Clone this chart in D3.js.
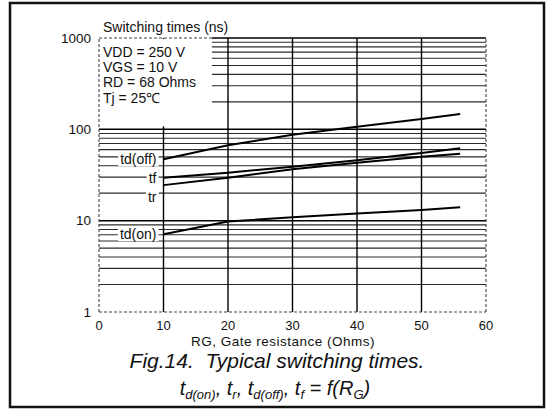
<!DOCTYPE html>
<html>
<head>
<meta charset="utf-8">
<script src="https://cdn.jsdelivr.net/npm/d3@7"></script>
<style>
  body { margin: 0; background: #fff; }
  text { font-family: "Liberation Sans", Arial, sans-serif; fill: #111; }
</style>
</head>
<body>
<svg id="chart"></svg>
<script>
const WIDTH = 550;
const HEIGHT = 409;

// gate resistance (Ohms) where curves were read
const rg = [10, 20, 30, 40, 50, 56];
// switching times, ns
const tdOff = [47, 67, 87, 107, 130, 147];
const tf = [29.5, 33.5, 39, 46, 55, 62];
const tr = [24.5, 29.5, 36.5, 43, 50, 54];
const tdOn = [7.1, 9.8, 10.9, 12, 13.1, 14];

const curveNames = ["td(off)", "tf", "tr", "td(on)"];
const curveValues = [tdOff, tf, tr, tdOn];
const labelAt = [47, 29.5, 18, 7.1]; // where each name sits on the y axis

const xTicks = [0, 10, 20, 30, 40, 50, 60];
const yTicks = [1, 10, 100, 1000];
const conditions = ["VDD = 250 V", "VGS = 10 V", "RD = 68 Ohms", "Tj = 25\u2103"];

function main(){
    var svg = d3.select("#chart")
        .attr("width", WIDTH)
        .attr("height", HEIGHT);

    var x = d3.scaleLinear().domain([0, 60]).range([99, 486]);
    var y = d3.scaleLog().domain([1, 1000]).range([312, 38]);

    // outer frame
    svg.append("rect")
        .attr("x", 10).attr("y", 3)
        .attr("width", 534).attr("height", 404)
        .attr("fill", "none")
        .attr("stroke", "#111")
        .attr("stroke-width", 2.5);

    var grid = svg.append("g");

    // minor + major horizontal lines
    var hLines = [];
    for (var dec = 1; dec < 1000; dec *= 10){
        for (var k = 2; k <= 9; k++) hLines.push(dec * k);
        if (dec > 1) hLines.push(dec);
    }
    grid.selectAll(".h")
        .data(hLines)
        .enter()
        .append("line")
        .attr("x1", x(0)).attr("x2", x(60))
        .attr("y1", d=>y(d)).attr("y2", d=>y(d))
        .attr("stroke", d=>(d == 10 || d == 100) ? "#000" : "#2a2a2a")
        .attr("stroke-width", d=>(d == 10 || d == 100) ? 1.5 : 1.1);

    // vertical lines
    grid.selectAll(".v")
        .data([10, 20, 30, 40, 50])
        .enter()
        .append("line")
        .attr("x1", d=>x(d)).attr("x2", d=>x(d))
        .attr("y1", y(1)).attr("y2", y(1000))
        .attr("stroke", "#000")
        .attr("stroke-width", 1.4);

    // white box holding the test conditions
    svg.append("rect")
        .attr("x", x(0)).attr("y", y(1000) + 1)
        .attr("width", x(17.5) - x(0))
        .attr("height", y(100) - y(1000) - 4)
        .attr("fill", "#fff");

    // frame of the plot: dashed left/right/bottom, solid top beyond box
    var dashed = [
        [0, 1, 0, 1000], [60, 1, 60, 1000], [0, 1, 60, 1], [0, 1000, 17.5, 1000]
    ];
    svg.selectAll(".frame")
        .data(dashed)
        .enter()
        .append("line")
        .attr("x1", d=>x(d[0])).attr("y1", d=>y(d[1]))
        .attr("x2", d=>x(d[2])).attr("y2", d=>y(d[3]))
        .attr("stroke", "#444")
        .attr("stroke-width", 1.1)
        .attr("stroke-dasharray", "3,2");
    svg.append("line")
        .attr("x1", x(17.5)).attr("x2", x(60))
        .attr("y1", y(1000)).attr("y2", y(1000))
        .attr("stroke", "#000")
        .attr("stroke-width", 1.4);

    // curves
    var line = d3.line()
        .x((d, i)=>x(rg[i]))
        .y(d=>y(d));
    svg.selectAll(".curve")
        .data(curveValues)
        .enter()
        .append("path")
        .attr("d", line)
        .attr("fill", "none")
        .attr("stroke", "#000")
        .attr("stroke-width", 2);

    // curve names, sitting on white patches left of the 10 Ohm line
    var labels = svg.selectAll(".lab")
        .data(curveNames)
        .enter()
        .append("g")
        .attr("transform", (d, i)=>"translate(" + (x(10) - 7) + "," + y(labelAt[i]) + ")");
    labels.append("text")
        .attr("text-anchor", "end")
        .attr("dy", "0.35em")
        .style("font-size", "14px")
        .text(d=>d)
        .each(function(){
            var b = this.getBBox();
            d3.select(this.parentNode).insert("rect", "text")
                .attr("x", b.x - 2).attr("y", b.y + 2)
                .attr("width", b.width + 4).attr("height", b.height - 3)
                .attr("fill", "#fff");
        });

    // condition text
    svg.selectAll(".cond")
        .data(conditions)
        .enter()
        .append("text")
        .attr("x", x(0) + 4)
        .attr("y", (d, i)=>56.5 + i * 15.4)
        .style("font-size", "14px")
        .text(d=>d);

    svg.append("text")
        .attr("x", x(0) + 4)
        .attr("y", 32)
        .style("font-size", "14px")
        .text("Switching times (ns)");

    // tick labels
    svg.selectAll(".yt")
        .data(yTicks)
        .enter()
        .append("text")
        .attr("x", x(0) - 8)
        .attr("y", d=>y(d))
        .attr("dy", "0.35em")
        .attr("text-anchor", "end")
        .style("font-size", "13.5px")
        .text(d=>d);
    svg.selectAll(".xt")
        .data(xTicks)
        .enter()
        .append("text")
        .attr("x", d=>x(d))
        .attr("y", 330)
        .attr("text-anchor", "middle")
        .style("font-size", "13px")
        .text(d=>d);

    svg.append("text")
        .attr("x", 283)
        .attr("y", 346)
        .attr("text-anchor", "middle")
        .style("font-size", "13.5px")
        .style("letter-spacing", "0.5px")
        .text("RG, Gate resistance (Ohms)");

    // caption
    svg.append("text")
        .attr("x", 277)
        .attr("y", 368)
        .attr("text-anchor", "middle")
        .style("font-size", "21px")
        .style("font-style", "italic")
        .attr("xml:space", "preserve")
        .text("Fig.14.  Typical switching times.");

    var cap = svg.append("text")
        .attr("x", 275)
        .attr("y", 395)
        .attr("text-anchor", "middle")
        .style("font-size", "20px")
        .style("font-style", "italic");
    var parts = [["t", "d(on)"], [", t", "r"], [", t", "d(off)"], [", t", "f"], [" = f(R", "G"]];
    parts.forEach((p, i)=>{
        cap.append("tspan").attr("dy", i == 0 ? 0 : -4).text(p[0]);
        cap.append("tspan").attr("dy", 4).style("font-size", "13px").text(p[1]);
    });
    cap.append("tspan").attr("dy", -4).text(")");
}

main();
</script>
</body>
</html>
